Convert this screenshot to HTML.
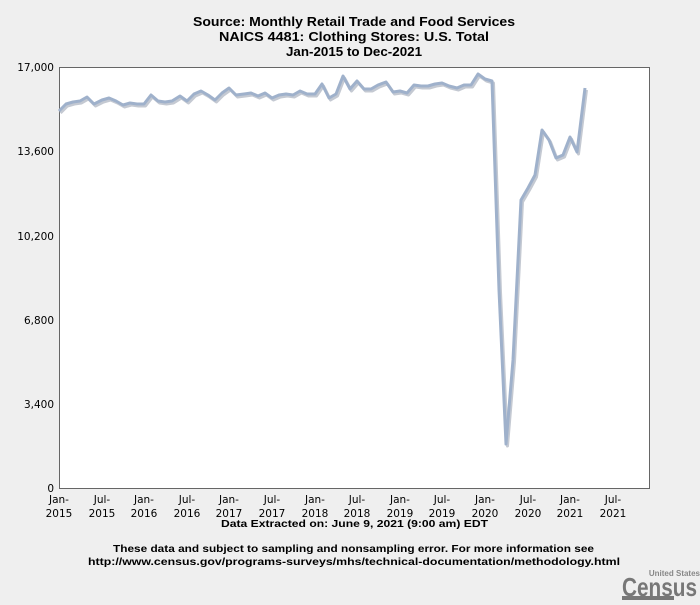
<!DOCTYPE html>
<html><head><style>
body{margin:0;width:700px;height:600px;background:#efefef;font-family:"Liberation Sans",Arial,sans-serif;overflow:hidden}
</style></head><body>
<svg width="700" height="600" xmlns="http://www.w3.org/2000/svg" font-family="DejaVu Sans, Liberation Sans, sans-serif">
<g font-weight="bold" font-size="12.5" font-family="Liberation Sans, sans-serif">
<text x="193" y="26" textLength="322" lengthAdjust="spacingAndGlyphs">Source: Monthly Retail Trade and Food Services</text>
<text x="219" y="41" textLength="270" lengthAdjust="spacingAndGlyphs">NAICS 4481: Clothing Stores: U.S. Total</text>
<text x="286" y="56" textLength="136" lengthAdjust="spacingAndGlyphs">Jan-2015 to Dec-2021</text>
</g>
<rect x="59.5" y="67.5" width="590" height="421" fill="#fff" stroke="#666" stroke-width="1"/>
<g font-size="10.5" text-anchor="end" fill="#000">
<text x="54" y="71">17,000</text>
<text x="54" y="155">13,600</text>
<text x="54" y="240">10,200</text>
<text x="54" y="324">6,800</text>
<text x="54" y="408">3,400</text>
<text x="54" y="492">0</text>
</g>
<g font-size="10.5" text-anchor="middle">
<text x="59" y="503">Jan-</text><text x="59" y="517">2015</text>
<text x="102" y="503">Jul-</text><text x="102" y="517">2015</text>
<text x="144" y="503">Jan-</text><text x="144" y="517">2016</text>
<text x="187" y="503">Jul-</text><text x="187" y="517">2016</text>
<text x="229" y="503">Jan-</text><text x="229" y="517">2017</text>
<text x="272" y="503">Jul-</text><text x="272" y="517">2017</text>
<text x="315" y="503">Jan-</text><text x="315" y="517">2018</text>
<text x="357" y="503">Jul-</text><text x="357" y="517">2018</text>
<text x="400" y="503">Jan-</text><text x="400" y="517">2019</text>
<text x="442" y="503">Jul-</text><text x="442" y="517">2019</text>
<text x="485" y="503">Jan-</text><text x="485" y="517">2020</text>
<text x="528" y="503">Jul-</text><text x="528" y="517">2020</text>
<text x="570" y="503">Jan-</text><text x="570" y="517">2021</text>
<text x="613" y="503">Jul-</text><text x="613" y="517">2021</text>
</g>
<g font-weight="bold" font-size="10.5" font-family="Liberation Sans, sans-serif">
<text x="221" y="527" textLength="267" lengthAdjust="spacingAndGlyphs">Data Extracted on: June 9, 2021 (9:00 am) EDT</text>
<text x="113" y="552" textLength="481" lengthAdjust="spacingAndGlyphs">These data and subject to sampling and nonsampling error. For more information see</text>
<text x="88" y="565" textLength="532" lengthAdjust="spacingAndGlyphs">http://www.census.gov/programs-surveys/mhs/technical-documentation/methodology.html</text>
</g>
<g fill="none" stroke-width="3" stroke-linejoin="round">
<polyline stroke="#c4c9d2" transform="translate(1.5,2)" points="59,111 66,104 73,102 80,101 87,97 94,104 102,100 109,98 116,101 123,105 130,103 137,104 144,104 151,95 158,101 165,102 172,101 180,96 187,101 194,94 201,91 208,95 215,100 222,93 229,88 236,95 244,94 251,93 258,96 265,93 272,98 279,95 286,94 293,95 300,91 307,94 315,94 322,84 329,98 336,94 343,76 350,89 357,81 364,89 371,89 378,85 386,82 393,92 400,91 407,93 414,85 421,86 428,86 435,84 442,83 449,86 457,88 464,85 471,85 478,74 485,79 492,81 499,290 506,444 513,360 521,200 528,188 535,175 542,130 549,140 556,158 563,155 570,137 577,152 585,88"/>
<polyline stroke="#9fb1cb" points="59,111 66,104 73,102 80,101 87,97 94,104 102,100 109,98 116,101 123,105 130,103 137,104 144,104 151,95 158,101 165,102 172,101 180,96 187,101 194,94 201,91 208,95 215,100 222,93 229,88 236,95 244,94 251,93 258,96 265,93 272,98 279,95 286,94 293,95 300,91 307,94 315,94 322,84 329,98 336,94 343,76 350,89 357,81 364,89 371,89 378,85 386,82 393,92 400,91 407,93 414,85 421,86 428,86 435,84 442,83 449,86 457,88 464,85 471,85 478,74 485,79 492,81 499,290 506,444 513,360 521,200 528,188 535,175 542,130 549,140 556,158 563,155 570,137 577,152 585,88"/>
</g>
<text x="700" y="576" text-anchor="end" font-size="8" font-weight="bold" fill="#888" font-family="Liberation Sans, sans-serif">United States</text>
<text x="622" y="596" font-size="26" font-weight="bold" fill="#777" textLength="75" lengthAdjust="spacingAndGlyphs" font-family="Liberation Sans, sans-serif">Census</text>
<rect x="622" y="596" width="52" height="4" fill="#777"/>
</svg>
</body></html>
